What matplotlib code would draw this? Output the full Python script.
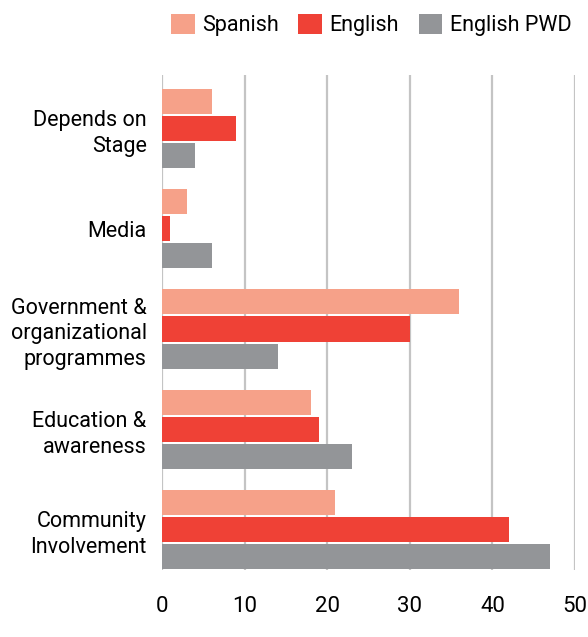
import numpy as np
import matplotlib.pyplot as plt

# ------------------
# Data
# ------------------
categories = ["Depends on\nStage", "Media", "Government &\norganizational\nprogrammes",
              "Education &\nawareness", "Community\nInvolvement"]
series_names = ["Spanish", "English", "English PWD"]
spanish = [6, 3, 36, 18, 21]
english = [9, 1, 30, 19, 42]
english_pwd = [4, 6, 14, 23, 47]
colors = ["#F6A189", "#EF4136", "#939598"]

plt.rcParams['font.family'] = ['Roboto', 'DejaVu Sans']

fig = plt.figure(figsize=(5.88, 6.37), dpi=100)
ax = fig.add_axes([162/588, 1 - 570/637, (575 - 162)/588, (570 - 75)/637])

y = np.arange(len(categories))
h = 0.25
step = 0.27
for i, (vals, name) in enumerate(zip([spanish, english, english_pwd], series_names)):
    ax.barh(y + (i - 1)*step, vals, height=h, color=colors[i], label=name, zorder=3)

ax.set_xlim(0, 50)
ax.set_ylim(4.4, -0.53)
ax.set_xticks(range(0, 51, 10))
ax.set_yticks(y)
ax.set_yticklabels(categories, fontsize=15.5, linespacing=1.3)
ax.tick_params(axis='x', labelsize=16, length=0, pad=19)
ax.tick_params(axis='y', length=0, pad=11)
ax.grid(axis='x', color='#c4c4c4', linewidth=1.6, zorder=0)
for s in ax.spines.values():
    s.set_visible(False)

ax.legend(loc='lower right', bbox_to_anchor=(1.012, 1.061), ncol=3, frameon=False,
          fontsize=15.5, handlelength=1.1, handleheight=1.1, handletextpad=0.35,
          columnspacing=0.9, borderaxespad=0)

fig.savefig("out.png", dpi=100)
